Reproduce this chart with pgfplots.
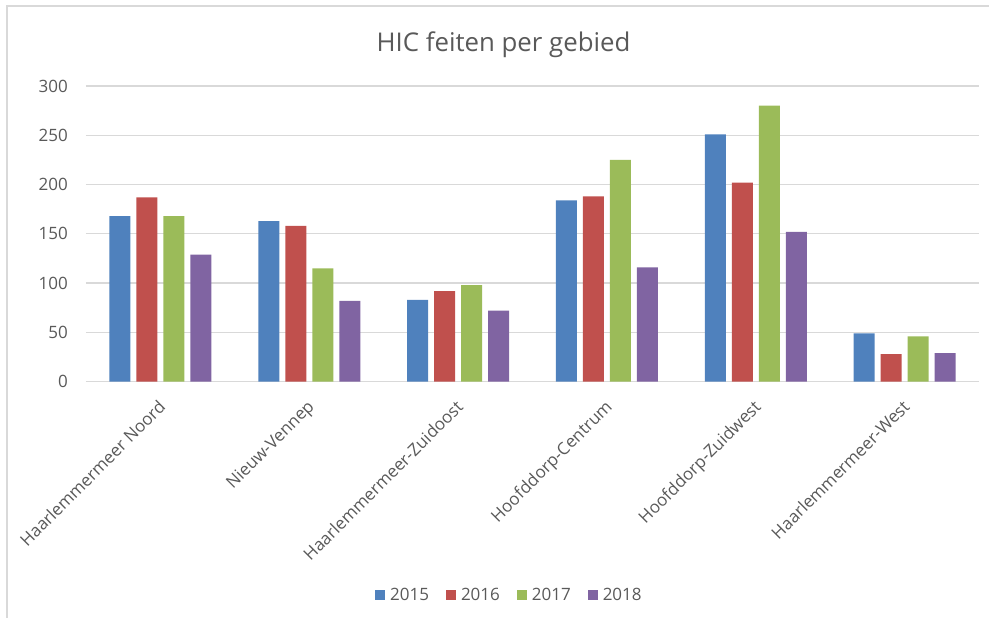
\documentclass[border=0pt]{standalone}
\usepackage{fontspec}
\setmainfont{Open Sans}
\usepackage{pgfplots}
\pgfplotsset{compat=1.18}
\definecolor{cA}{HTML}{4F81BD}
\definecolor{cB}{HTML}{C0504D}
\definecolor{cC}{HTML}{9BBB59}
\definecolor{cD}{HTML}{8064A2}
\definecolor{txt}{HTML}{595959}
\definecolor{gridc}{HTML}{D9D9D9}
\begin{document}
\begin{tikzpicture}[x=1pt,y=1pt]
\path[use as bounding box] (0,0) rectangle (989,618);
\draw[gridc, line width=1.5pt] (7,0) -- (7,612) -- (989,612);
\node[txt, font=\fontsize{25.8}{30}\selectfont, anchor=base] at (503.5,566.3) {HIC feiten per gebied};
\begin{axis}[
  at={(86pt,236.3pt)}, anchor=south west,
  scale only axis, width=893pt, height=295.7pt,
  ymin=0, ymax=300, ytick={0,50,...,300},
  xmin=-0.5, xmax=5.5, xtick={0,...,5},
  xticklabels={Haarlemmermeer Noord, Nieuw-Vennep, Haarlemmermeer-Zuidoost, Hoofddorp-Centrum, Hoofddorp-Zuidwest, Haarlemmermeer-West},
  ybar=6pt, bar width=21pt,
  axis line style={draw=none},
  ymajorgrids, grid style={gridc, line width=1.3pt},
  major tick length=0pt,
  tick label style={txt, font=\fontsize{17}{20}\selectfont},
  /pgf/number format/assume math mode=true,
  yticklabel style={inner sep=0pt, anchor=east, xshift=-18pt},
  xticklabel style={xshift=-3pt, yshift=-17pt, rotate=45, anchor=north east, inner sep=0pt},
  legend image code/.code={\fill[#1] (0pt,-5pt) rectangle (10pt,5pt);},
  legend style={at={(0.473,-0.7213)}, anchor=center, draw=none, fill=none,
    legend columns=4, font=\fontsize{17}{20}\selectfont, text=txt,
    nodes={inner sep=0pt},
    /tikz/every odd column/.append style={column sep=5pt},
    /tikz/every even column/.append style={column sep=17pt}},
]
\addplot[fill=cA, draw=none] coordinates {(0,168) (1,163) (2,83) (3,184) (4,251) (5,49)};
\addplot[fill=cB, draw=none] coordinates {(0,187) (1,158) (2,92) (3,188) (4,202) (5,28)};
\addplot[fill=cC, draw=none] coordinates {(0,168) (1,115) (2,98) (3,225) (4,280) (5,46)};
\addplot[fill=cD, draw=none] coordinates {(0,129) (1,82) (2,72) (3,116) (4,152) (5,29)};
\legend{2015,2016,2017,2018}
\end{axis}
\end{tikzpicture}
\end{document}
